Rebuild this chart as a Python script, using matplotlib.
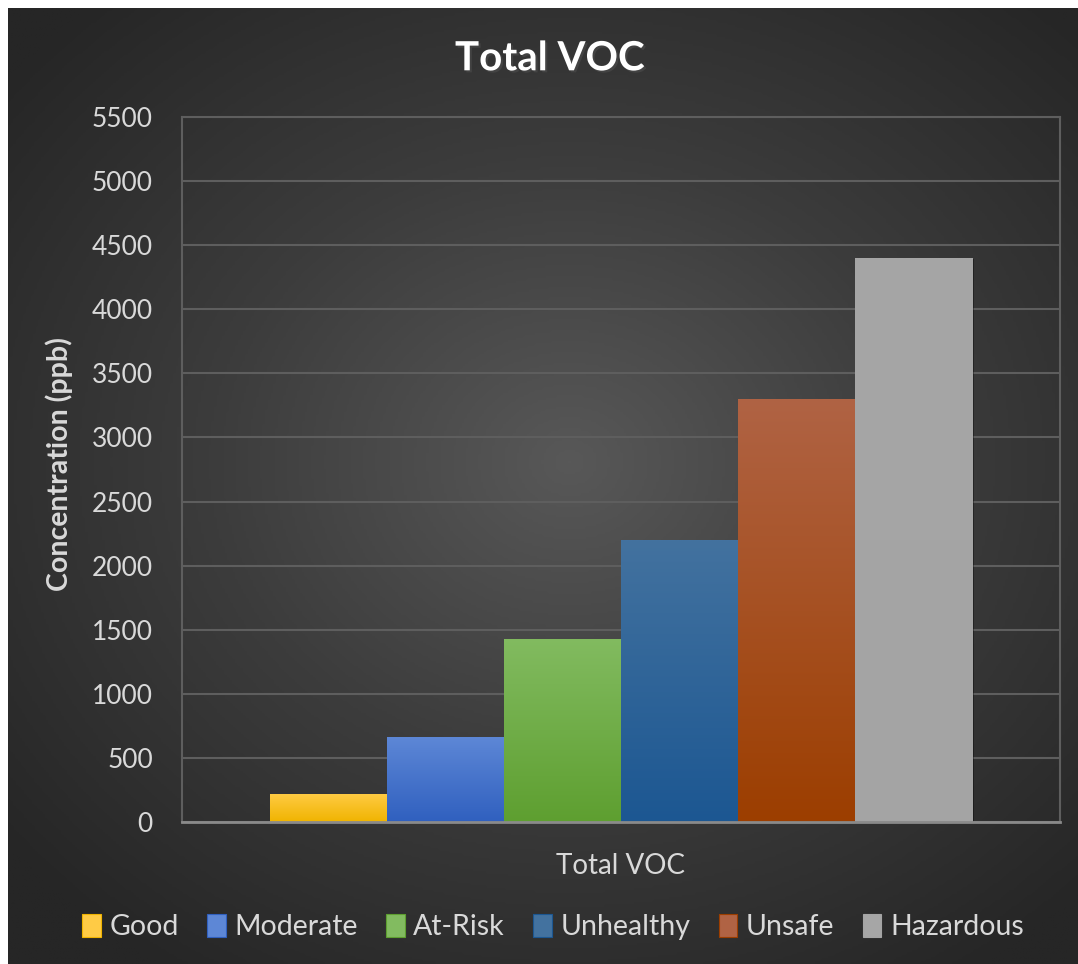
"""
Total VOC concentration thresholds, dark office-style bar chart
"""
import numpy as np
import matplotlib.pyplot as plt
from matplotlib import patheffects as pe
from matplotlib.colors import LinearSegmentedColormap

plt.rcParams['font.family'] = ['Lato', 'DejaVu Sans']

# data
categories = ['Good', 'Moderate', 'At-Risk', 'Unhealthy', 'Unsafe', 'Hazardous']
values = [220, 660, 1430, 2200, 3300, 4400]
group_label = 'Total VOC'
y_ticks = list(range(0, 5501, 500))

# (top colour, bottom colour) for the gradient fills
colors = [('#ffcb45', '#f0b400'),
          ('#5d87d6', '#3060bf'),
          ('#82bb60', '#5e9f30'),
          ('#43729f', '#1c5792'),
          ('#b06344', '#9c3e00'),
          ('#a6a6a6', '#a4a4a4')]

fig = plt.figure(figsize=(10.78, 9.64), dpi=100, facecolor='white')

# dark radial background
bg = fig.add_axes([8 / 1078, 0, 1070 / 1078, 956 / 964])
xx, yy = np.meshgrid(np.linspace(-1, 1, 400), np.linspace(-1, 1, 400))
rr = np.sqrt(((xx - 0.05) / 1.0) ** 2 + ((yy + 0.05) / 0.95) ** 2)
bg_cmap = LinearSegmentedColormap.from_list('bg', ['#585858', '#3c3c3c', '#262626'])
bg.imshow(rr, cmap=bg_cmap, extent=[0, 1, 0, 1], aspect='auto', vmin=0, vmax=1.35)
bg.set_axis_off()

ax = fig.add_axes([182 / 1078, (964 - 822) / 964, 878 / 1078, 705 / 964])
ax.patch.set_alpha(0)

n = len(categories)
width = 0.8 / n
offsets = (np.arange(n) - (n - 1) / 2) * width
bars = ax.bar(offsets, values, width=width, color='none', zorder=3, label='_')

handles = []
for b, (top, bot), lab in zip(bars, colors, categories):
    cm = LinearSegmentedColormap.from_list(lab, [bot, top])
    x0, y0 = b.get_x(), b.get_y()
    grad = np.linspace(0, 1, 256).reshape(-1, 1)
    im = ax.imshow(grad, cmap=cm, origin='lower', aspect='auto',
                   extent=[x0, x0 + b.get_width(), y0, y0 + b.get_height()], zorder=3)
    im.set_clip_path(b)
    b.set_path_effects([pe.SimplePatchShadow(offset=(1, -1), shadow_rgbFace='black', alpha=0.35), pe.Normal()])
    handles.append(plt.Rectangle((0, 0), 1, 1, facecolor=top, edgecolor=bot, linewidth=0.8))

ax.set_xlim(-0.5, 0.5)
ax.set_ylim(0, 5500)
ax.set_yticks(y_ticks)
ax.set_xticks([0])
ax.set_xticklabels([group_label])
ax.grid(axis='y', color='#5e5e5e', linewidth=1.5, zorder=0)
ax.tick_params(axis='y', length=0, colors='#d9d9d9', labelsize=19, pad=21)
ax.tick_params(axis='x', length=0, colors='#d9d9d9', labelsize=20, pad=22)
for s in ['left', 'right', 'top']:
    ax.spines[s].set_color('#5e5e5e')
    ax.spines[s].set_linewidth(1.5)
ax.spines['bottom'].set_color('#8a8a8a')
ax.spines['bottom'].set_linewidth(2)
ax.spines['bottom'].set_zorder(4)

ax.set_ylabel('Concentration (ppb)', color='#d9d9d9', fontsize=20.5, fontweight='bold')
ax.yaxis.set_label_coords(-0.124, 0.508)

fig.text(0.51, 0.939, 'Total VOC', ha='center', va='center', color='white', fontsize=29,
         fontweight='bold', path_effects=[pe.withSimplePatchShadow(offset=(1.5, -1.5), alpha=0.6)])

fig.legend(handles, categories, loc='center', bbox_to_anchor=(0.513, 0.038), ncol=n,
           frameon=False, fontsize=20.5, labelcolor='#d9d9d9', handlelength=0.65,
           handleheight=0.85, handletextpad=0.3, columnspacing=1.0)

fig.savefig('out.png', dpi=100, facecolor='white')
